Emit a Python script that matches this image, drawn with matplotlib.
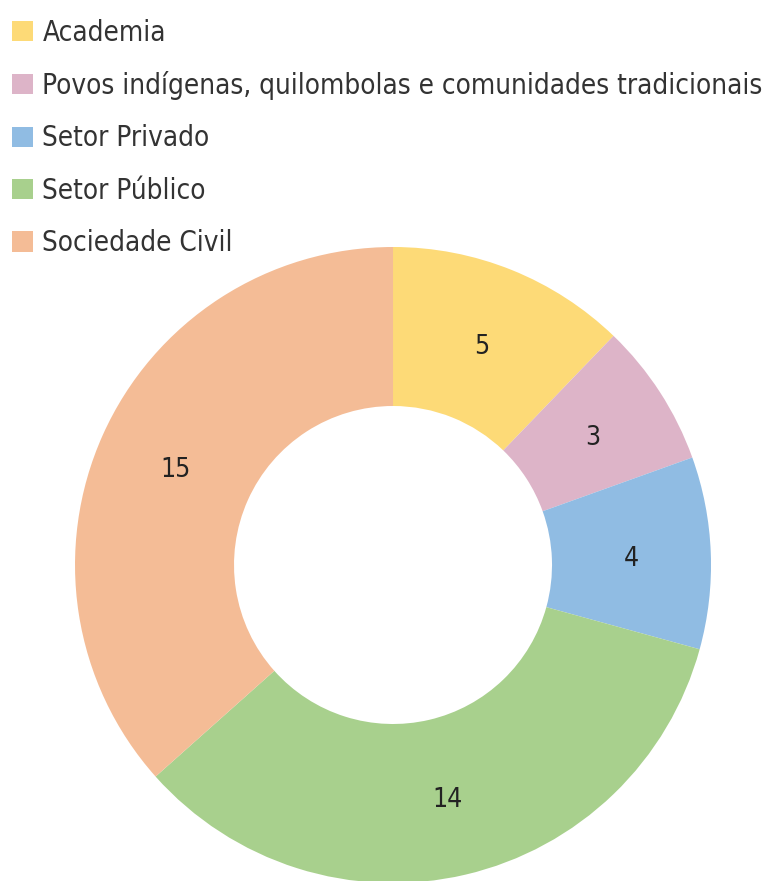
import matplotlib
matplotlib.use("Agg")
import matplotlib.pyplot as plt
import numpy as np

categories = ["Academia", "Povos indígenas, quilombolas e comunidades tradicionais",
              "Setor Privado", "Setor Público", "Sociedade Civil"]
values = [5, 3, 4, 14, 15]
colors = ["#FDDA77", "#DDB4C8", "#90BCE3", "#A8D08D", "#F4BC96"]

plt.rcParams['font.family'] = ['DejaVu Sans']
plt.rcParams['font.stretch'] = 'condensed'

fig = plt.figure(figsize=(7.67, 8.81), dpi=100)
ax = fig.add_axes([0.0978, -0.00227, 636/767, 636/881])
wedges, _ = ax.pie(values, colors=colors, startangle=90, counterclock=False,
                   radius=1.0, wedgeprops=dict(width=0.5, linewidth=0))
for w, v in zip(wedges, values):
    mid = np.deg2rad((w.theta1 + w.theta2) / 2)
    ax.text(0.75 * np.cos(mid), 0.75 * np.sin(mid), str(v), ha="center",
            va="center_baseline", fontsize=19, color="#222222")
ax.set_xlim(-1, 1); ax.set_ylim(-1, 1)
ax.set_aspect("equal")
ax.axis("off")

leg = fig.legend(wedges, categories, loc="upper left", bbox_to_anchor=(0.0155, 0.979),
                 frameon=False, fontsize=20, handlelength=0.75, handleheight=0.75,
                 handletextpad=0.35, labelspacing=0.88, borderaxespad=0, borderpad=0,
                 labelcolor="#333333")
fig.savefig("out.png", dpi=100, facecolor="white")
